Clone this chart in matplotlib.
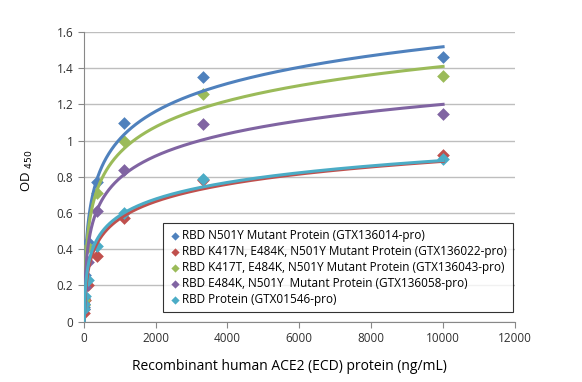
import numpy as np
import matplotlib
matplotlib.use('Agg')
import matplotlib.pyplot as plt

plt.rcParams['font.family'] = ['Open Sans', 'DejaVu Sans']

conc = [10000, 3333, 1111, 370, 123, 41, 13.7, 4.6]

labels = [
    'RBD N501Y Mutant Protein (GTX136014-pro)',
    'RBD K417N, E484K, N501Y Mutant Protein (GTX136022-pro)',
    'RBD K417T, E484K, N501Y Mutant Protein (GTX136043-pro)',
    'RBD E484K, N501Y  Mutant Protein (GTX136058-pro)',
    'RBD Protein (GTX01546-pro)',
]
n501y = [1.46, 1.35, 1.10, 0.77, 0.44, 0.26, 0.13, 0.08]
k417n = [0.92, 0.78, 0.57, 0.36, 0.20, 0.12, 0.07, 0.05]
k417t = [1.36, 1.26, 1.00, 0.71, 0.41, 0.22, 0.12, 0.09]
e484k = [1.15, 1.09, 0.84, 0.61, 0.33, 0.19, 0.10, 0.07]
rbd = [0.90, 0.79, 0.60, 0.42, 0.23, 0.14, 0.10, 0.07]
series = [n501y, k417n, k417t, e484k, rbd]
colors = ['#4F81BD', '#C0504D', '#9BBB59', '#8064A2', '#4BACC6']

fig = plt.figure(figsize=(5.82, 3.82), dpi=100)
ax = fig.add_axes([0.1438, 0.158, 0.741, 0.758])

x = np.array(conc)
fit = x >= 13  # lowest dilution left out of the trendline
xx = np.linspace(x.min(), x.max(), 3000)
for vals, c, lab in zip(series, colors, labels):
    y = np.array(vals)
    ax.scatter(conc, vals, marker='D', s=42, color=c, label=lab, zorder=3, linewidths=0)
    # logarithmic trendline, like Excel
    a, b = np.polyfit(np.log(x[fit]), y[fit], 1)
    ax.plot(xx, a * np.log(xx) + b, color=c, lw=2.2, zorder=4)

ax.set_xlim(0, 12000)
ax.set_ylim(0, 1.6)
ax.set_xticks(range(0, 12001, 2000))
ax.set_yticks(np.arange(0, 1.61, 0.2))
ax.set_yticklabels(['0', '0.2', '0.4', '0.6', '0.8', '1', '1.2', '1.4', '1.6'])
ax.grid(axis='y', color='#BEBEBE', lw=1)
ax.set_axisbelow(True)
for s in ['top', 'right']:
    ax.spines[s].set_visible(False)
for s in ['left', 'bottom']:
    ax.spines[s].set_color('#888888')
ax.tick_params(direction='out', length=4, color='#888888', labelsize=8.5, labelcolor='#303030')

ax.set_xlabel('Recombinant human ACE2 (ECD) protein (ng/mL)', fontsize=10)
ax.xaxis.set_label_coords(0.477, -0.13)
ax.set_ylabel(r'OD $_{450}$', fontsize=9.5)
ax.yaxis.set_label_coords(-0.113, 0.52)

leg = ax.legend(loc='lower left', bbox_to_anchor=(0.184, 0.035), fontsize=8.5,
                frameon=True, fancybox=False, edgecolor='black', handletextpad=0.1,
                handlelength=1.0, borderpad=0.5, labelspacing=0.25, markerscale=0.65,
                borderaxespad=0)
leg.get_frame().set_linewidth(0.8)

fig.savefig('out.png', dpi=100)
